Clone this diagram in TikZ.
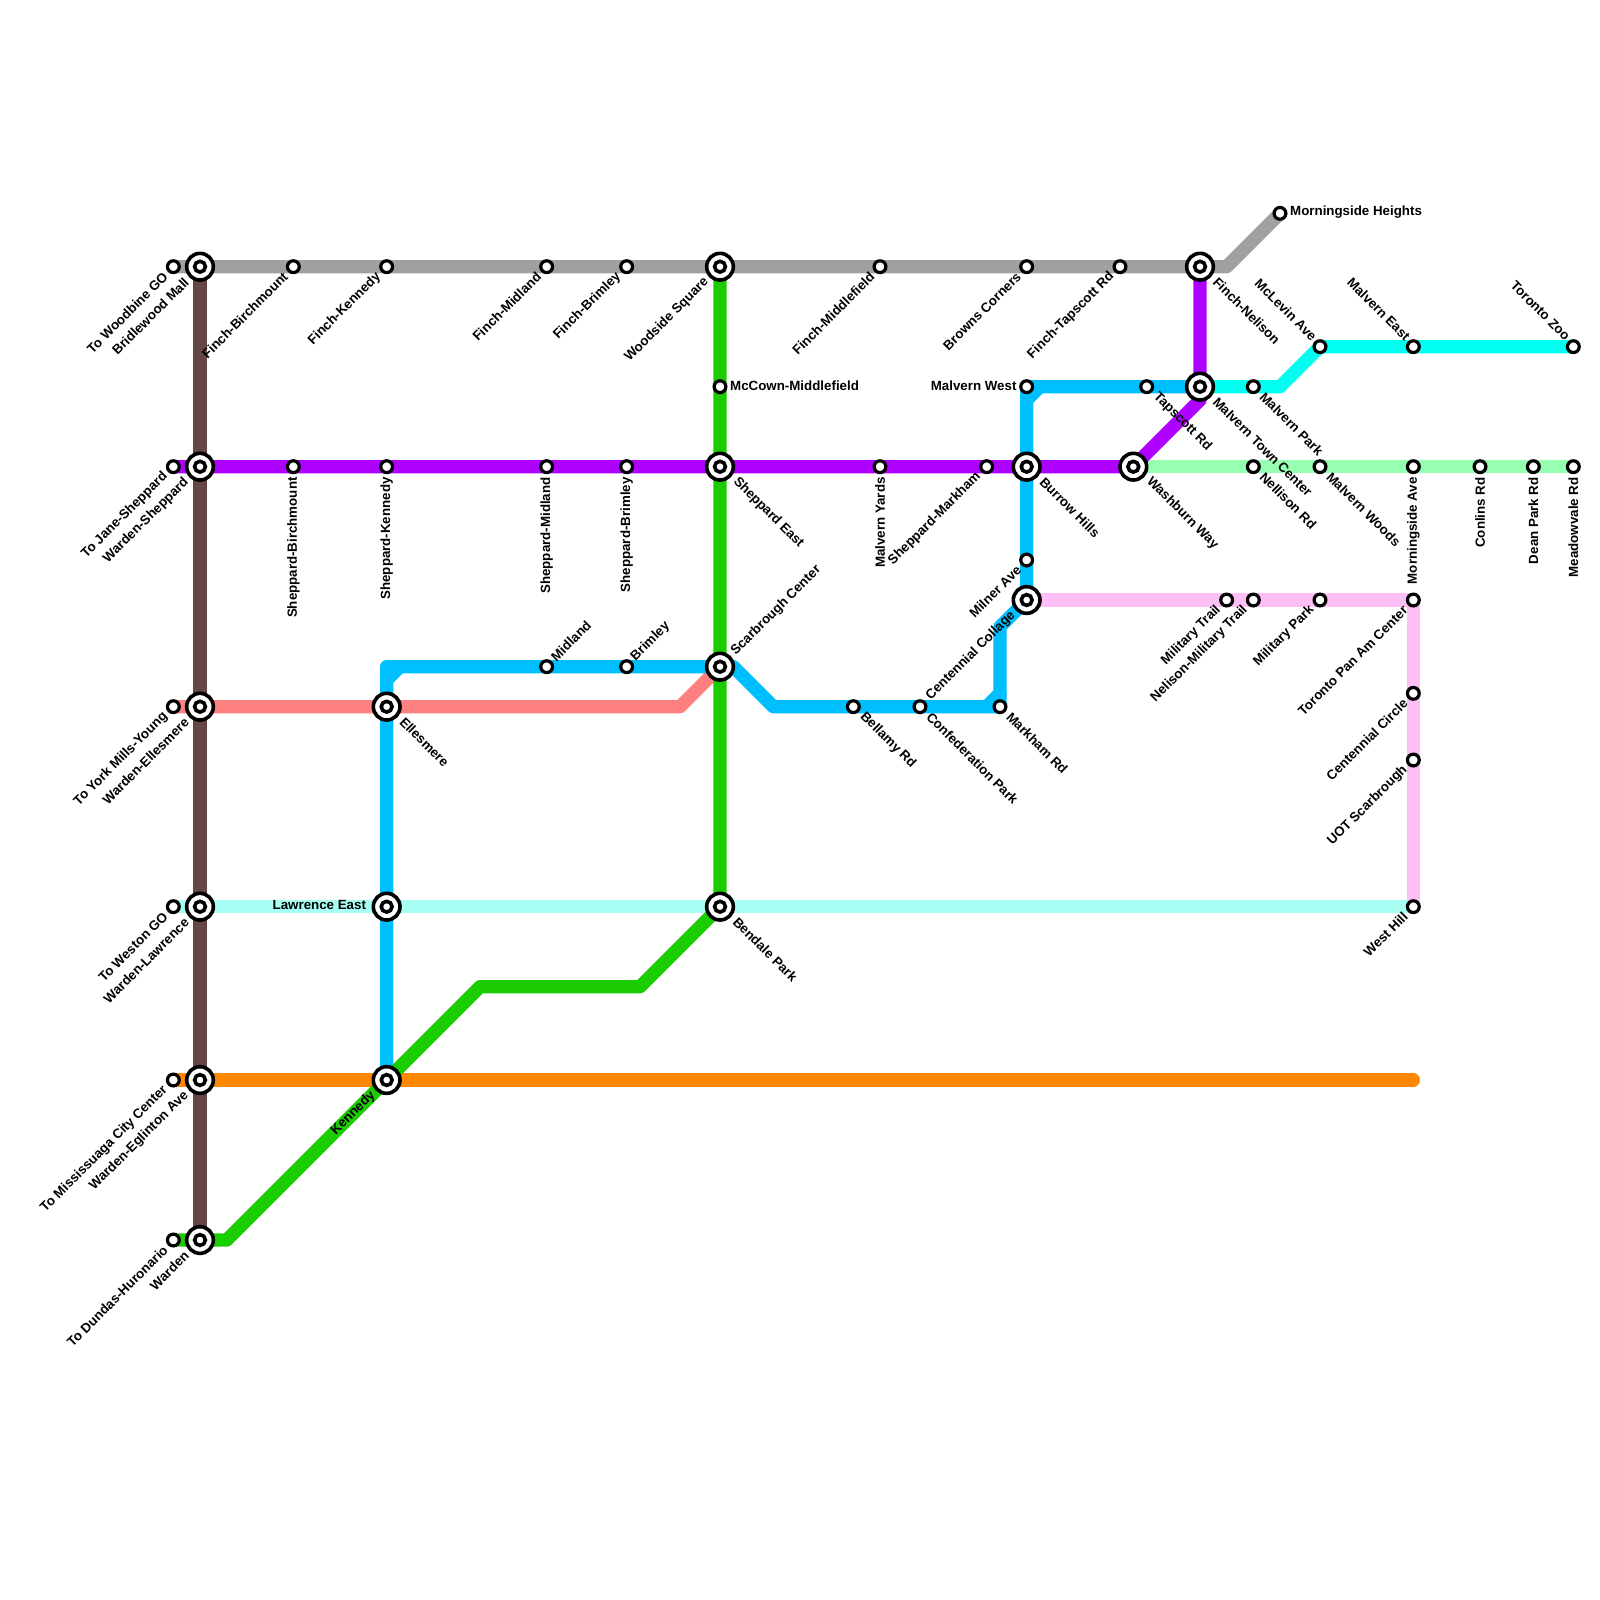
\documentclass[tikz,border=0pt]{standalone}
\usepackage{fontspec}
\setmainfont{Liberation Sans}
\pgfdeclarelayer{bg}
\pgfsetlayers{bg,main}
\definecolor{cgray}{HTML}{A0A0A0}
\definecolor{cbrown}{HTML}{664646}
\definecolor{cpurple}{HTML}{AD00FF}
\definecolor{cblue}{HTML}{00BFFF}
\definecolor{csalmon}{HTML}{FF8080}
\definecolor{cpale}{HTML}{A6FFF2}
\definecolor{cmint}{HTML}{97FFB0}
\definecolor{caqua}{HTML}{00FFF0}
\definecolor{cpink}{HTML}{FDBFF5}
\definecolor{cgreen}{HTML}{1BCC00}
\definecolor{corange}{HTML}{FF8800}
\tikzset{
  stn/.style={circle,draw=black,fill=white,line width=0.032cm,minimum size=0.118cm,inner sep=0pt,outer sep=0pt},
  hub/.style={circle,draw=black,fill=white,line width=0.036cm,minimum size=0.267cm,inner sep=0pt,outer sep=0pt},
  core/.style={circle,draw=black,fill=white,line width=0.036cm,minimum size=0.108cm,inner sep=0pt,outer sep=0pt},
  bendpt/.style={inner sep=0pt,outer sep=0pt,minimum size=0pt},
  txt/.style={font=\fontsize{3.79}{4.5}\selectfont\bfseries,inner sep=0pt,text=black},
  SW/.style={txt,shift={(-0.075cm,-0.075cm)},rotate=45,anchor=east},
  SE/.style={txt,shift={(0.085cm,-0.075cm)},rotate=-45,anchor=west},
  NE/.style={txt,shift={(0.06cm,0.075cm)},rotate=45,anchor=west},
  NW/.style={txt,shift={(-0.05cm,0.08cm)},rotate=-45,anchor=east},
  VV/.style={txt,shift={(0cm,-0.1cm)},rotate=90,anchor=east},
  RR/.style={txt,anchor=west,shift={(0.095cm,0.01cm)}},
  LL/.style={txt,anchor=east,shift={(-0.095cm,0.01cm)}},
  hSW/.style={txt,shift={(-0.13cm,-0.13cm)},rotate=45,anchor=east},
  hSE/.style={txt,shift={(0.15cm,-0.125cm)},rotate=-45,anchor=west},
  hNE/.style={txt,shift={(0.13cm,0.13cm)},rotate=45,anchor=west},
  hLL/.style={txt,anchor=east,shift={(-0.2cm,0.015cm)}},
  metro/.style={line width=0.1333cm,line cap=round,line join=round},
}
\newcommand{\st}[5]{\node[stn] (#1) at (#2,#3) {}; \node[#4,name=#1-l] at (#1) {#5};}
\newcommand{\hb}[5]{\node[hub] (#1) at (#2,#3) {}; \node[core] (#1-c) at (#2,#3) {}; \node[#4,name=#1-l] at (#1) {#5};}
\newcommand{\bd}[3]{\node[bendpt] (#1) at (#2,#3) {};}
\begin{document}
\begin{tikzpicture}[x=0.13333cm,y=-0.13333cm]
\useasboundingbox (0,0) rectangle (120,120);
% row y=20
\st{a1}{13}{20}{SW}{To Woodbine GO}
\hb{a2}{15}{20}{hSW}{Bridlewood Mall}
\st{a3}{22}{20}{SW}{Finch-Birchmount}
\st{a4}{29}{20}{SW}{Finch-Kennedy}
\st{a5}{41}{20}{SW}{Finch-Midland}
\st{a6}{47}{20}{SW}{Finch-Brimley}
\hb{a7}{54}{20}{hSW}{Woodside Square}
\st{a8}{66}{20}{SW}{Finch-Middlefield}
\st{a9}{77}{20}{SW}{Browns Corners}
\st{a10}{84}{20}{SW}{Finch-Tapscott Rd}
\hb{a11}{90}{20}{hSE}{Finch-Nelison}
\st{a12}{96}{16}{RR}{Morningside Heights}
% y=26,29
\st{b1}{99}{26}{NW}{McLevin Ave}
\st{b2}{106}{26}{NW}{Malvern East}
\st{b3}{118}{26}{NW}{Toronto Zoo}
\st{c1}{54}{29}{RR}{McCown-Middlefield}
\st{c2}{77}{29}{LL}{Malvern West}
\st{c3}{86}{29}{SE}{Tapscott Rd}
\hb{c4}{90}{29}{hSE}{Malvern Town Center}
\st{c5}{94}{29}{SE}{Malvern Park}
% y=35
\st{d1}{13}{35}{SW}{To Jane-Sheppard}
\hb{d2}{15}{35}{hSW}{Warden-Sheppard}
\st{d3}{22}{35}{VV}{Sheppard-Birchmount}
\st{d4}{29}{35}{VV}{Sheppard-Kennedy}
\st{d5}{41}{35}{VV}{Sheppard-Midland}
\st{d6}{47}{35}{VV}{Sheppard-Brimley}
\hb{d7}{54}{35}{hSE}{Sheppard East}
\st{d8}{66}{35}{VV}{Malvern Yards}
\st{d9}{74}{35}{SW}{Sheppard-Markham}
\hb{d10}{77}{35}{hSE}{Burrow Hills}
\hb{d11}{85}{35}{hSE}{Washburn Way}
\st{d12}{94}{35}{SE}{Nellison Rd}
\st{d13}{99}{35}{SE}{Malvern Woods}
\st{d14}{106}{35}{VV}{Morningside Ave}
\st{d15}{111}{35}{VV}{Conlins Rd}
\st{d16}{115}{35}{VV}{Dean Park Rd}
\st{d17}{118}{35}{VV}{Meadowvale Rd}
% y=42-57 east
\st{e1}{77}{42}{SW}{Milner Ave}
\hb{e2}{77}{45}{hSW}{Centennial Collage}
\st{e3}{92}{45}{SW}{Military Trail}
\st{e4}{94}{45}{SW}{Nelison-Military Trail}
\st{e5}{99}{45}{SW}{Military Park}
\st{e6}{106}{45}{SW}{Toronto Pan Am Center}
\st{e7}{106}{52}{SW}{Centennial Circle}
\st{e8}{106}{57}{SW}{UOT Scarbrough}
% y=50
\st{f1}{41}{50}{NE}{Midland}
\st{f2}{47}{50}{NE}{Brimley}
\hb{f3}{54}{50}{hNE}{Scarbrough Center}
% y=53
\st{g1}{13}{53}{SW}{To York Mills-Young}
\hb{g2}{15}{53}{hSW}{Warden-Ellesmere}
\hb{g3}{29}{53}{hSE}{Ellesmere}
\st{g4}{64}{53}{SE}{Bellamy Rd}
\st{g5}{69}{53}{SE}{Confederation Park}
\st{g6}{75}{53}{SE}{Markham Rd}
% y=68
\st{h1}{13}{68}{SW}{To Weston GO}
\hb{h2}{15}{68}{hSW}{Warden-Lawrence}
\hb{h3}{29}{68}{hLL}{Lawrence East}
\hb{h4}{54}{68}{hSE}{Bendale Park}
\st{h5}{106}{68}{SW}{West Hill}
% y=81
\st{i1}{13}{81}{SW}{To Mississuaga City Center}
\hb{i2}{15}{81}{hSW}{Warden-Eglinton Ave}
\hb{i3}{29}{81}{hSW}{Kennedy}
% y=93
\st{j1}{13}{93}{SW}{To Dundas-Huronario}
\hb{j2}{15}{93}{hSW}{Warden}
% bends
\bd{k1}{92}{20}
\bd{k2}{90}{30}
\bd{k3}{96}{29}
\bd{k4}{51}{53}
\bd{k5}{17}{93}
\bd{k6}{36}{74}
\bd{k7}{48}{74}
\bd{k8}{29}{50}
\bd{k9}{58}{53}
\bd{k10}{74}{53}
\bd{k11}{75}{52}
\bd{k12}{75}{47}
\bd{k13}{29}{51}
\bd{k14}{30}{50}
\bd{k15}{77}{30}
\bd{k16}{78}{29}
\bd{k17}{106}{81}
\bd{k18}{55}{50}
\begin{pgfonlayer}{bg}
\fill[white] (0,0) rectangle (120,120);
\draw[metro,corange] (i1.center) -- (k17.center);
\draw[metro,cpale] (h1.center) -- (h5.center);
\draw[metro,csalmon] (g1.center) -- (k4.center) -- (f3.center);
\draw[metro,cmint] (d11.center) -- (d17.center);
\draw[metro,caqua] (c4.center) -- (k3.center) -- (b1.center) -- (b3.center);
\draw[metro,cpink] (e2.center) -- (e6.center) -- (h5.center);
\draw[metro,cgray] (a1.center) -- (k1.center) -- (a12.center);
\draw[metro,cpurple] (d1.center) -- (d11.center) -- (k2.center) -- (a11.center);
\draw[metro,cblue] (i3.center) -- (k8.center) -- (k18.center) -- (k9.center) -- (g6.center) -- (k12.center) -- (e2.center) -- (c2.center) -- (c4.center);
\draw[metro,cblue] (k13.center) -- (k14.center);
\draw[metro,cblue] (k10.center) -- (k11.center);
\draw[metro,cblue] (k15.center) -- (k16.center);
\draw[metro,cgreen] (j1.center) -- (k5.center) -- (k6.center) -- (k7.center) -- (h4.center) -- (a7.center);
\draw[metro,cbrown,line cap=butt] (a2.center) -- (j2.center);
\end{pgfonlayer}
\end{tikzpicture}
\end{document}
